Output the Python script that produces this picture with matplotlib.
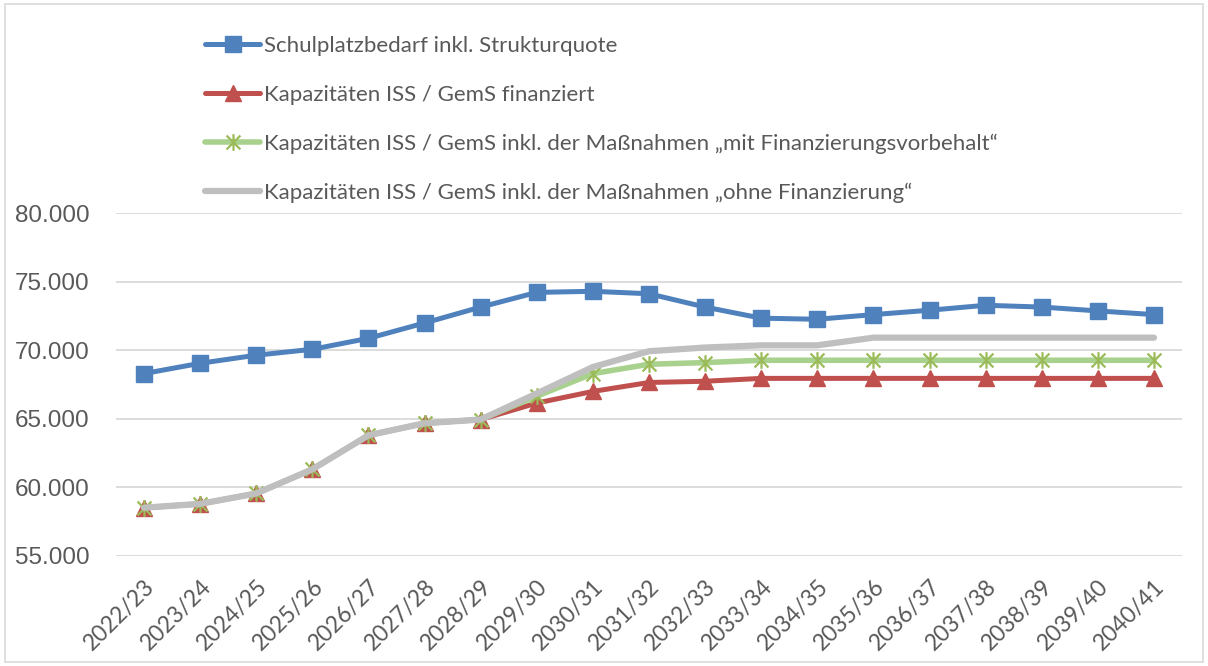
import matplotlib
matplotlib.use("Agg")
import matplotlib.pyplot as plt
from matplotlib.ticker import FuncFormatter
from matplotlib.patches import Rectangle
from matplotlib.path import Path
from matplotlib.transforms import ScaledTranslation

jahre = ["2022/23", "2023/24", "2024/25", "2025/26", "2026/27", "2027/28", "2028/29",
         "2029/30", "2030/31", "2031/32", "2032/33", "2033/34", "2034/35", "2035/36",
         "2036/37", "2037/38", "2038/39", "2039/40", "2040/41"]

bedarf = [68300, 69050, 69640, 70070, 70870, 71990, 73150, 74220, 74300, 74120,
          73150, 72340, 72260, 72600, 72920, 73280, 73150, 72870, 72600]
finanziert = [58520, 58800, 59560, 61320, 63800, 64680, 64950, 66150, 67000, 67650,
              67740, 67950, 67950, 67950, 67950, 67950, 67950, 67950, 67950]
vorbehalt = [58520, 58800, 59560, 61320, 63800, 64680, 64950, 66650, 68300, 68980,
             69100, 69270, 69270, 69270, 69270, 69270, 69270, 69270, 69270]
ohne_fin = [58520, 58800, 59560, 61320, 63800, 64680, 64950, 66850, 68780, 69930,
            70200, 70360, 70360, 70920, 70920, 70920, 70920, 70920, 70920]

namen = ["Schulplatzbedarf inkl. Strukturquote",
         "Kapazitäten ISS / GemS finanziert",
         "Kapazitäten ISS / GemS inkl. der Maßnahmen „mit Finanzierungsvorbehalt“",
         "Kapazitäten ISS / GemS inkl. der Maßnahmen „ohne Finanzierung“"]

textfarbe = "#595959"

# Excel-Stern: X plus senkrechter Strich
stern = Path([(-1, -1), (1, 1), (-1, 1), (1, -1), (0, -1.2), (0, 1.2)],
             [Path.MOVETO, Path.LINETO, Path.MOVETO, Path.LINETO, Path.MOVETO, Path.LINETO])

fig = plt.figure(figsize=(12.08, 6.66), dpi=100)
ax = fig.add_axes([0.096, 0.1652, 0.8825, 0.5148])

x = list(range(len(jahre)))
ax.plot(x, bedarf, color="#4F81BD", lw=3.6, marker="s", ms=12,
        solid_joinstyle="round", solid_capstyle="round", label=namen[0], zorder=3)
ax.plot(x, finanziert, color="#C0504D", lw=3.6, marker="^", ms=11.5,
        solid_joinstyle="round", solid_capstyle="round", label=namen[1], zorder=3)
ax.plot(x, vorbehalt, color="#A9D18E", lw=4.0, marker=stern, ms=12, mew=1.6,
        mec="#9BBB59", solid_joinstyle="round", solid_capstyle="round",
        label=namen[2], zorder=3)
ax.plot(x, ohne_fin, color="#BFBFBF", lw=4.5, solid_joinstyle="round",
        solid_capstyle="round", label=namen[3], zorder=3)

ax.set_xlim(-0.5, len(jahre) - 0.5)
ax.set_ylim(55000, 80000)
ax.set_yticks([55000, 60000, 65000, 70000, 75000, 80000])
ax.yaxis.set_major_formatter(FuncFormatter(lambda v, p: f"{int(v):,}".replace(",", ".")))
ax.set_xticks(x)
ax.set_xticklabels(jahre, rotation=45, ha="right", va="top", rotation_mode="anchor",
                   fontsize=16.5, family="Lato", color=textfarbe)
verschiebung = ScaledTranslation(-6 / 100, -4 / 100, fig.dpi_scale_trans)
for lab in ax.get_xticklabels():
    lab.set_transform(lab.get_transform() + verschiebung)
for lab in ax.get_yticklabels():
    lab.set_fontsize(17.5)
    lab.set_family("Liberation Sans")
    lab.set_color(textfarbe)

ax.grid(axis="y", color="#D9D9D9", lw=1.3)
ax.set_axisbelow(True)
for s in ax.spines.values():
    s.set_visible(False)
ax.tick_params(axis="both", length=0)
ax.tick_params(axis="y", pad=19)
ax.tick_params(axis="x", pad=14)

fig.legend(loc="upper left", bbox_to_anchor=(0.153, 0.976), frameon=False,
           prop={"family": "Lato", "size": 16}, labelcolor=textfarbe,
           handlelength=2.5, handletextpad=0.15, labelspacing=1.29)

fig.add_artist(Rectangle((0.004, 0.006), 0.992, 0.988, transform=fig.transFigure,
                         fill=False, edgecolor="#D9D9D9", lw=1.2))

fig.savefig("out.png", dpi=100)
